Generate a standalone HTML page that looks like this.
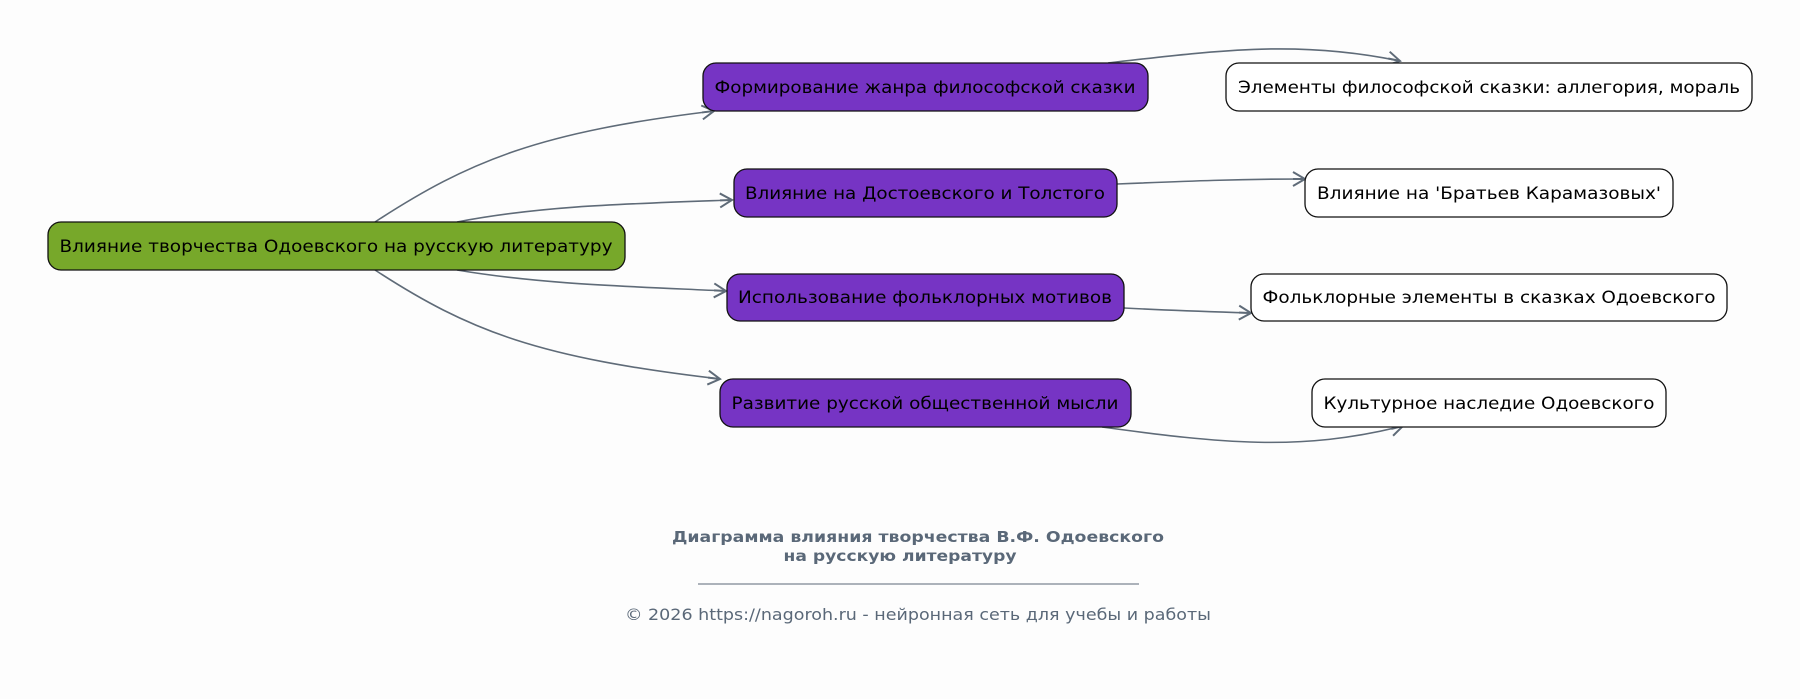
<!DOCTYPE html>
<html><head><meta charset="utf-8"><style>
html,body{margin:0;padding:0;background:#fdfdfd;}
svg{display:block;}
text{font-family:"DejaVu Sans","Liberation Sans",sans-serif;}
</style></head><body>
<svg width="1800" height="699" viewBox="0 0 1800 699" xmlns="http://www.w3.org/2000/svg">
<defs>
<marker id="a" markerWidth="16" markerHeight="16" refX="14" refY="8" orient="auto" markerUnits="userSpaceOnUse">
<path d="M2,1 L14,8 L2,15" fill="none" stroke="#5f6b78" stroke-width="2"/>
<path d="M2,8 L14,8" stroke="#5f6b78" stroke-width="2"/>
</marker>
</defs>
<rect width="1800" height="699" fill="#fdfdfd"/>
<g fill="none" stroke="#5f6b78" stroke-width="1.6" marker-end="url(#a)">
<path d="M375,222 C470,160 540,132 714,111"/>
<path d="M457,222 C540,206 620,204 732,200"/>
<path d="M457,270 C540,284 620,286 726,291"/>
<path d="M375,270 C470,332 540,358 720,379"/>
<path d="M1108,63 C1220,50 1300,40 1400,61"/>
<path d="M1117,184 C1190,181 1240,179 1305,179"/>
<path d="M1124,308 C1180,311 1220,312 1251,313"/>
<path d="M1102,427 C1220,443 1300,452 1403,426"/>
</g>
<g stroke="#111" stroke-width="1.3">
<rect x="48" y="222" width="577" height="48" rx="13" fill="#77a82a"/>
<rect x="703" y="63" width="445" height="48" rx="13" fill="#7634c4"/>
<rect x="734" y="169" width="383" height="48" rx="13" fill="#7634c4"/>
<rect x="727" y="274" width="397" height="47" rx="13" fill="#7634c4"/>
<rect x="720" y="379" width="411" height="48" rx="13" fill="#7634c4"/>
<rect x="1226" y="63" width="526" height="48" rx="13" fill="#fff"/>
<rect x="1305" y="169" width="368" height="48" rx="13" fill="#fff"/>
<rect x="1251" y="274" width="476" height="47" rx="13" fill="#fff"/>
<rect x="1312" y="379" width="354" height="48" rx="13" fill="#fff"/>
</g>
<g font-size="17" fill="#000" text-anchor="middle">
<text x="336" y="252" textLength="553" lengthAdjust="spacingAndGlyphs">Влияние творчества Одоевского на русскую литературу</text>
<text x="925" y="93" textLength="421" lengthAdjust="spacingAndGlyphs">Формирование жанра философской сказки</text>
<text x="925" y="199" textLength="360" lengthAdjust="spacingAndGlyphs">Влияние на Достоевского и Толстого</text>
<text x="925" y="303" textLength="374" lengthAdjust="spacingAndGlyphs">Использование фольклорных мотивов</text>
<text x="925" y="409" textLength="387" lengthAdjust="spacingAndGlyphs">Развитие русской общественной мысли</text>
<text x="1489" y="93" textLength="502" lengthAdjust="spacingAndGlyphs">Элементы философской сказки: аллегория, мораль</text>
<text x="1489" y="199" textLength="344" lengthAdjust="spacingAndGlyphs">Влияние на 'Братьев Карамазовых'</text>
<text x="1489" y="303" textLength="453" lengthAdjust="spacingAndGlyphs">Фольклорные элементы в сказках Одоевского</text>
<text x="1489" y="409" textLength="331" lengthAdjust="spacingAndGlyphs">Культурное наследие Одоевского</text>
</g>
<g fill="#5a6878" text-anchor="middle">
<text x="918" y="542" font-size="15.5" font-weight="bold" textLength="492" lengthAdjust="spacingAndGlyphs">Диаграмма влияния творчества В.Ф. Одоевского</text>
<text x="900" y="561" font-size="15.5" font-weight="bold" textLength="233" lengthAdjust="spacingAndGlyphs">на русскую литературу</text>
<line x1="698" y1="584" x2="1139" y2="584" stroke="#5a6878" stroke-width="1"/>
<text x="918" y="620" font-size="16" textLength="586" lengthAdjust="spacingAndGlyphs">© 2026 https://nagoroh.ru - нейронная сеть для учебы и работы</text>
</g>
</svg>
</body></html>
